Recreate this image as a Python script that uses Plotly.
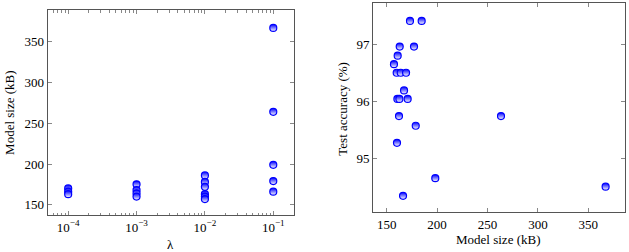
import plotly.graph_objects as go

# Left panel: lambda vs model size
lam_vals = [1e-4, 1e-4, 1e-4,
            1e-3, 1e-3, 1e-3, 1e-3,
            1e-2, 1e-2, 1e-2, 1e-2, 1e-2, 1e-2,
            1e-1, 1e-1, 1e-1, 1e-1, 1e-1]
size_left = [170, 166, 163,
             175, 168, 164, 160,
             186, 178, 172, 163, 160, 157,
             367, 264, 199, 179, 166]
lam_ticks = [1e-4, 1e-3, 1e-2, 1e-1]
lam_ticktext = ["10<sup>−4</sup>", "10<sup>−3</sup>", "10<sup>−2</sup>", "10<sup>−1</sup>"]

# Right panel: model size vs test accuracy
size_right = [173.1, 184.7, 162.9, 177.1, 160.9, 157.2, 159.9, 163.9, 169.2, 167.2,
              160.6, 162.6, 170.8, 162.2, 263.4, 178.8, 160.2, 198.2, 166.2, 367.2]
acc_right = [97.41, 97.41, 96.96, 96.96, 96.80, 96.65, 96.50, 96.50, 96.50, 96.19,
             96.04, 96.04, 96.04, 95.74, 95.74, 95.57, 95.27, 94.65, 94.34, 94.50]
size_ticks = [150, 200, 250, 300, 350]
acc_ticks = [95, 96, 97]

BLUE = "#0000ff"
FONT = "Liberation Serif, DejaVu Serif, Times New Roman, serif"
LINE = "#555555"
TICK = "#888888"

marker = dict(symbol="circle", size=7, color=BLUE,
              gradient=dict(type="vertical", color="white"),
              line=dict(color=BLUE, width=1.2))

fig = go.Figure()
fig.add_trace(go.Scatter(x=lam_vals, y=size_left, mode="markers", marker=marker,
                         xaxis="x", yaxis="y", showlegend=False))
fig.add_trace(go.Scatter(x=size_right, y=acc_right, mode="markers", marker=marker,
                         xaxis="x2", yaxis="y2", showlegend=False))

common = dict(showline=True, linecolor=LINE, linewidth=1, mirror="allticks",
              ticks="inside", ticklen=4, tickcolor=TICK, tickwidth=1,
              showgrid=False, zeroline=False,
              tickfont=dict(family=FONT, size=13, color="black"))

tfont = dict(family=FONT, size=13, color="black")

fig.update_layout(
    width=629, height=252,
    margin=dict(l=0, r=0, t=0, b=0),
    paper_bgcolor="white", plot_bgcolor="white",
    font=dict(family=FONT, size=13, color="black"),
    xaxis=dict(type="log", range=[-4.30, -0.697], domain=[0.0758, 0.4674],
               tickvals=lam_ticks, ticktext=lam_ticktext, anchor="y",
               minor=dict(ticks="inside", ticklen=2.5, tickcolor=TICK, dtick="D1", showgrid=False),
               **common),
    yaxis=dict(range=[137.4, 389], domain=[0.1468, 0.9603], tickvals=[150, 200, 250, 300, 350],
               anchor="x", **common),
    xaxis2=dict(range=[136.4, 386.4], domain=[0.593, 0.9936], tickvals=size_ticks,
                anchor="y2", **common),
    yaxis2=dict(range=[94.05, 97.72], domain=[0.1575, 0.987], tickvals=acc_ticks,
                anchor="x2", **common),
    annotations=[
        dict(text="λ", x=0.2717, y=0.030, xref="paper", yref="paper", showarrow=False,
             xanchor="center", yanchor="middle", font=tfont),
        dict(text="Model size (kB)", x=0.0150, y=0.5536, xref="paper", yref="paper",
             xanchor="center", yanchor="middle",
             showarrow=False, textangle=-90, font=tfont),
        dict(text="Test accuracy (%)", x=0.5440, y=0.5694, xref="paper", yref="paper",
             xanchor="center", yanchor="middle",
             showarrow=False, textangle=-90, font=tfont),
        dict(text="Model size (kB)", x=0.7923, y=0.0504, xref="paper", yref="paper",
             xanchor="center", yanchor="middle",
             showarrow=False, font=tfont),
    ],
)

fig.write_html("out.html")
